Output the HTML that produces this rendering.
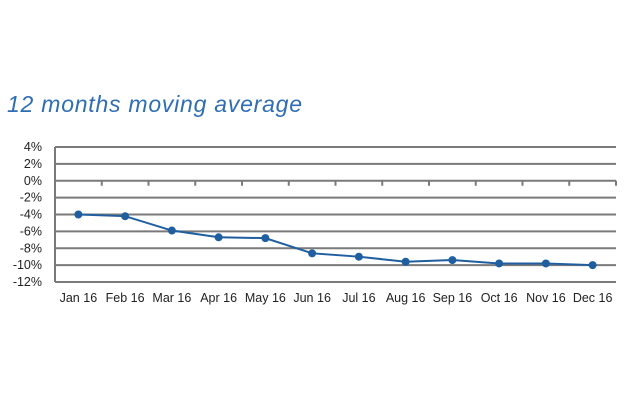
<!DOCTYPE html>
<html><head><meta charset="utf-8"><style>
body{margin:0;width:640px;height:400px;background:#fff;overflow:hidden;font-family:"Liberation Sans",sans-serif}
</style></head><body>
<svg width="640" height="400">
<text x="7" y="112" font-size="23" font-style="italic" fill="#2f6db5" textLength="295">12 months moving average</text>
<g id="grid"></g><g id="axes"></g><g id="series"></g>
</svg>
<script>
const categories=["Jan 16","Feb 16","Mar 16","Apr 16","May 16","Jun 16","Jul 16","Aug 16","Sep 16","Oct 16","Nov 16","Dec 16"];
const values=[-4.0,-4.2,-5.9,-6.7,-6.8,-8.6,-9.0,-9.6,-9.4,-9.8,-9.8,-10.0];
const yTicks=[4,2,0,-2,-4,-6,-8,-10,-12];
const L=55,R=616,T=147,B=282,yMax=4,yMin=-12;
const ns="http://www.w3.org/2000/svg";
const y=v=>T+(yMax-v)/(yMax-yMin)*(B-T);
const bw=(R-L)/categories.length;
const x=i=>L+bw*(i+0.5);
function mk(t,a,p){const e=document.createElementNS(ns,t);for(const k in a)e.setAttribute(k,a[k]);p.appendChild(e);return e;}
const g=document.getElementById('grid'),ax=document.getElementById('axes'),s=document.getElementById('series');
yTicks.forEach(v=>{
 const l=mk('line',{x1:L,x2:R,y1:y(v),y2:y(v),stroke:'#7a7a7a','stroke-width':2},g);
 
 
 const t=mk('text',{x:L-13,y:y(v)+4,'text-anchor':'end','font-size':12.5,fill:'#222'},ax);
 t.textContent=v+'%';
 
 
});
const va=mk('line',{x1:L,x2:L,y1:T,y2:B,stroke:'#7a7a7a','stroke-width':2},ax);


for(let i=1;i<=categories.length;i++){
 const tk=mk('line',{x1:L+bw*i,x2:L+bw*i,y1:y(0),y2:y(0)+5,stroke:'#7a7a7a','stroke-width':2},ax);
 
 
}
categories.forEach((c,i)=>{
 const t=mk('text',{x:x(i),y:302,'text-anchor':'middle','font-size':12.5,fill:'#222'},ax);
 t.textContent=c;
 
 
});
const pl=mk('polyline',{points:values.map((v,i)=>x(i)+','+y(v)).join(' '),fill:'none',stroke:'#1f5fa0','stroke-width':2},s);


values.forEach((v,i)=>{
 const c=mk('circle',{cx:x(i),cy:y(v),r:4,fill:'#1f5fa0'},s);
 
 
});
</script>
</body></html>
